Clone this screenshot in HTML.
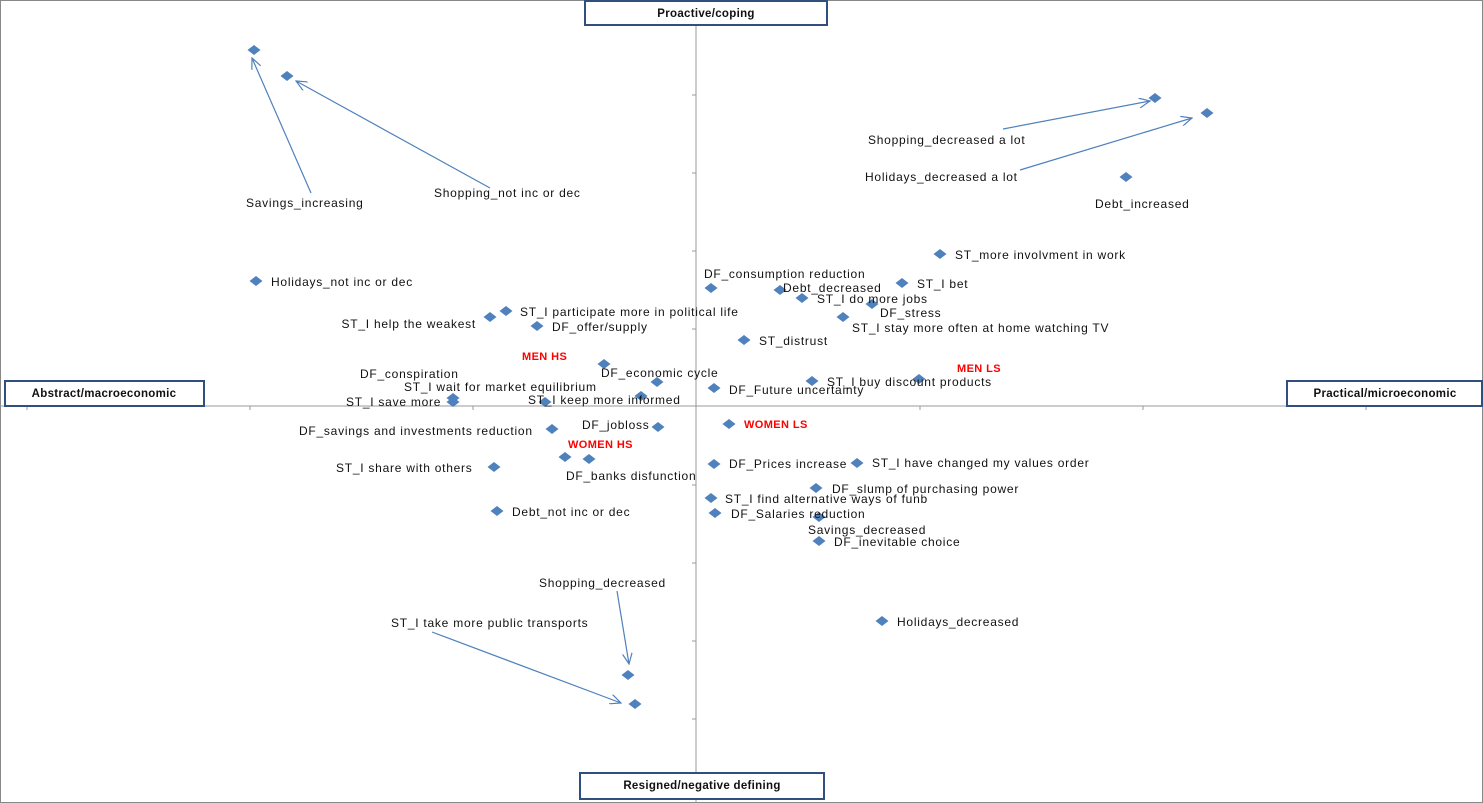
<!DOCTYPE html>
<html><head><meta charset="utf-8"><style>
html,body{margin:0;padding:0;background:#fff}
svg{display:block}
text{font-family:"Liberation Sans",sans-serif;font-size:12px;fill:#111;letter-spacing:0.75px}
.r{fill:#ff0000;font-weight:bold;font-size:11px;letter-spacing:0.4px}
.t{font-weight:bold;font-size:11.5px;fill:#111;letter-spacing:0.3px}
</style></head><body>
<svg width="1483" height="803" viewBox="0 0 1483 803" xmlns="http://www.w3.org/2000/svg">
<defs>
<path id="d" d="M0,-5 L6.5,0 L0,5 L-6.5,0 Z" fill="#4F81BD"/>
<marker id="a" markerWidth="12" markerHeight="10" refX="11" refY="5" orient="auto" markerUnits="userSpaceOnUse"><path d="M0,0 L11,5 L0,10" fill="none" stroke="#4F81BD" stroke-width="1.2"/></marker>
</defs>
<rect x="0.5" y="0.5" width="1482" height="802" fill="#fff" stroke="#888"/>
<line x1="0" y1="406" x2="1483" y2="406" stroke="#999"/>
<line x1="696" y1="0" x2="696" y2="803" stroke="#999"/>
<g stroke="#999">
<line x1="692" y1="95" x2="696" y2="95"/><line x1="692" y1="173" x2="696" y2="173"/><line x1="692" y1="251" x2="696" y2="251"/><line x1="692" y1="329" x2="696" y2="329"/><line x1="692" y1="485" x2="696" y2="485"/><line x1="692" y1="563" x2="696" y2="563"/><line x1="692" y1="641" x2="696" y2="641"/><line x1="692" y1="719" x2="696" y2="719"/>
<line x1="473" y1="406" x2="473" y2="410"/><line x1="250" y1="406" x2="250" y2="410"/><line x1="27" y1="406" x2="27" y2="410"/><line x1="920" y1="406" x2="920" y2="410"/><line x1="1143" y1="406" x2="1143" y2="410"/><line x1="1366" y1="406" x2="1366" y2="410"/>
</g>
<g stroke="#4F81BD" stroke-width="1.2" fill="none">
<line x1="311" y1="193" x2="252" y2="58" marker-end="url(#a)"/>
<line x1="490" y1="188" x2="296" y2="81" marker-end="url(#a)"/>
<line x1="1003" y1="129" x2="1150" y2="101" marker-end="url(#a)"/>
<line x1="1020" y1="170" x2="1192" y2="118" marker-end="url(#a)"/>
<line x1="617" y1="591" x2="629" y2="664" marker-end="url(#a)"/>
<line x1="432" y1="632" x2="621" y2="703" marker-end="url(#a)"/>
</g>
<g>
<use href="#d" x="254" y="50"/><use href="#d" x="287" y="76"/><use href="#d" x="1155" y="98"/><use href="#d" x="1207" y="113"/><use href="#d" x="1126" y="177"/><use href="#d" x="940" y="254"/><use href="#d" x="256" y="281"/><use href="#d" x="711" y="288"/><use href="#d" x="780" y="290"/><use href="#d" x="902" y="283"/><use href="#d" x="802" y="298"/><use href="#d" x="872" y="304"/><use href="#d" x="843" y="317"/><use href="#d" x="744" y="340"/><use href="#d" x="506" y="311"/><use href="#d" x="490" y="317"/><use href="#d" x="537" y="326"/><use href="#d" x="604" y="364"/><use href="#d" x="657" y="382"/><use href="#d" x="641" y="396"/><use href="#d" x="453" y="398"/><use href="#d" x="453" y="402"/><use href="#d" x="545" y="402"/><use href="#d" x="714" y="388"/><use href="#d" x="812" y="381"/><use href="#d" x="919" y="379"/><use href="#d" x="552" y="429"/><use href="#d" x="658" y="427"/><use href="#d" x="565" y="457"/><use href="#d" x="589" y="459"/><use href="#d" x="494" y="467"/><use href="#d" x="497" y="511"/><use href="#d" x="729" y="424"/><use href="#d" x="714" y="464"/><use href="#d" x="857" y="463"/><use href="#d" x="816" y="488"/><use href="#d" x="711" y="498"/><use href="#d" x="715" y="513"/><use href="#d" x="819" y="517"/><use href="#d" x="819" y="541"/><use href="#d" x="882" y="621"/><use href="#d" x="628" y="675"/><use href="#d" x="635" y="704"/>
</g>
<text x="246" y="207">Savings_increasing</text>
<text x="434" y="197">Shopping_not inc or dec</text>
<text x="868" y="144">Shopping_decreased a lot</text>
<text x="865" y="181">Holidays_decreased a lot</text>
<text x="1095" y="208">Debt_increased</text>
<text x="955" y="259">ST_more involvment in work</text>
<text x="271" y="286">Holidays_not inc or dec</text>
<text x="704" y="278">DF_consumption reduction</text>
<text x="783" y="292">Debt_decreased</text>
<text x="917" y="288">ST_I bet</text>
<text x="817" y="303">ST_I do more jobs</text>
<text x="880" y="317">DF_stress</text>
<text x="852" y="332">ST_I stay more often at home watching TV</text>
<text x="759" y="345">ST_distrust</text>
<text x="520" y="316">ST_I participate more in political life</text>
<text x="476" y="328" text-anchor="end">ST_I help the weakest</text>
<text x="552" y="331">DF_offer/supply</text>
<text x="522" y="360" class="r">MEN HS</text>
<text x="601" y="377">DF_economic cycle</text>
<text x="360" y="378">DF_conspiration</text>
<text x="404" y="391">ST_I wait for market equilibrium</text>
<text x="346" y="406">ST_I save more</text>
<text x="528" y="404">ST_I keep more informed</text>
<text x="729" y="394">DF_Future uncertainty</text>
<text x="827" y="386">ST_I buy discount products</text>
<text x="957" y="372" class="r">MEN LS</text>
<text x="299" y="435">DF_savings and investments reduction</text>
<text x="582" y="429">DF_jobloss</text>
<text x="568" y="448" class="r">WOMEN HS</text>
<text x="566" y="480">DF_banks disfunction</text>
<text x="336" y="472">ST_I share with others</text>
<text x="512" y="516">Debt_not inc or dec</text>
<text x="744" y="428" class="r">WOMEN LS</text>
<text x="729" y="468">DF_Prices increase</text>
<text x="872" y="467">ST_I have changed my values order</text>
<text x="832" y="493">DF_slump of purchasing power</text>
<text x="725" y="503">ST_I find alternative ways of funb</text>
<text x="731" y="518">DF_Salaries reduction</text>
<text x="808" y="534">Savings_decreased</text>
<text x="834" y="546">DF_inevitable choice</text>
<text x="897" y="626">Holidays_decreased</text>
<text x="539" y="587">Shopping_decreased</text>
<text x="391" y="627">ST_I take more public transports</text>
<g fill="#fff" stroke="#2F4F7F" stroke-width="2">
<rect x="585" y="1" width="242" height="24"/>
<rect x="5" y="381" width="199" height="25"/>
<rect x="1287" y="381" width="195" height="25"/>
<rect x="580" y="773" width="244" height="26"/>
</g>
<text x="706" y="17" text-anchor="middle" class="t">Proactive/coping</text>
<text x="104" y="397" text-anchor="middle" class="t">Abstract/macroeconomic</text>
<text x="1385" y="397" text-anchor="middle" class="t">Practical/microeconomic</text>
<text x="702" y="789" text-anchor="middle" class="t">Resigned/negative defining</text>
</svg>
</body></html>
